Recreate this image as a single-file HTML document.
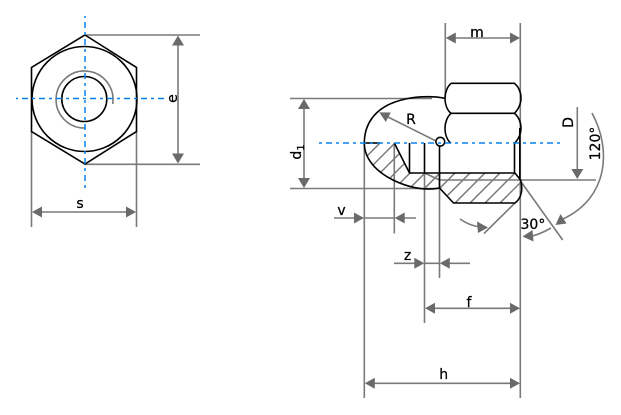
<!DOCTYPE html>
<html><head><meta charset="utf-8">
<style>
html,body{margin:0;padding:0;background:#fff;width:621px;height:415px;overflow:hidden}
svg{display:block}
text{font-family:"DejaVu Sans",sans-serif;font-size:14px;fill:#000;stroke:#000;stroke-width:.25}
.g{stroke:#7a7a7a;stroke-width:1.6;fill:none}
.k{stroke:#000;stroke-width:1.6;fill:none}
.b{stroke:#0a80ee;stroke-width:1.5;fill:none;stroke-dasharray:6 4 3 4}
.a{fill:#6a6a6a;stroke:none}
.h{stroke:#7a7a7a;stroke-width:1.5;fill:none}
</style></head><body>
<svg width="621" height="415" viewBox="0 0 621 415" xmlns="http://www.w3.org/2000/svg">
<defs>
<clipPath id="sec"><path d="M364.3,143 C364.3,158 375,171 393,180 C408,187.5 425,191 439.5,188 L453.5,203 L515,203 C522,198 523,188 520.5,180 L515,173 L409.5,173 L394.3,143 Z"/></clipPath>
</defs>

<!-- left view -->
<path class="g" d="M85,35H200M85,164.3H200M178,40V160M31.5,131V227M136.5,131V227M36,212H132"/>
<path class="g" d="M112.7,104 A28.5,28.5 0 1 0 85,128"/>
<path class="k" d="M85,35 L136.5,67.5 V131.5 L85,164 L31.5,131.5 V67.5 Z"/>
<circle class="k" cx="84.5" cy="99" r="52.5"/>
<circle class="k" cx="84.3" cy="99" r="22.5"/>
<path class="b" stroke-dashoffset="11" d="M16,98.5H167"/>
<path class="b" stroke-dashoffset="11" d="M85,16V190"/>
<path class="a" d="M178,35.5l-6,10h12zM178,163.5l-6,-10h12zM32,212l10,-5.5v11zM136,212l-10,-5.5v11z"/>
<text x="80" y="208" text-anchor="middle">s</text>
<text transform="translate(177,98.5) rotate(-90)" text-anchor="middle">e</text>

<!-- right view: hatch -->
<g clip-path="url(#sec)">
<path class="h" d="M523,0L323,200M538,0L338,200M553,0L303,250M568,0L318,250M583,0L333,250M598,0L348,250M613,0L363,250M628,0L378,250M643,0L393,250M658,0L408,250M673,0L423,250M688,0L438,250M703,0L453,250"/>
<path class="g" d="M424.5,173L439.5,180"/>
</g>

<!-- right view: gray -->
<path class="g" d="M445.3,23V98M520.3,23V398M450,38H516"/>
<path class="g" d="M290,98.5H432M290,188.5H440M304,103V184M439.5,180H596"/>
<path class="g" d="M364.3,143V398M394.3,143V233.5M424.5,173V323M439.5,173V278"/>
<path class="g" d="M440,143L384,115"/>
<path class="g" d="M577.3,107V172"/>
<path class="g" d="M334,218H358M364.3,218H394.3M400,218H416M394,263.3H418M424.5,263.3H439.5M446,263.3H470"/>
<path class="g" d="M430,308.3H515M370,383.3H515"/>
<path class="g" d="M515,203L484,233.5M520.5,181L562.7,240"/>
<path class="g" d="M460,219 C467,224 473,226 480,227"/>
<path class="g" d="M551,228 C544,232 538,235 530,236.5"/>
<path class="g" d="M592,113 C612,150 608,198 563,219"/>

<!-- right view: black -->
<path class="k" d="M445,98.3 C432,95.5 412,96 395,102 C375,109 364.3,124 364.3,143 C364.3,158 375,171 393,180 C408,187.5 425,191 439.5,188 L453.5,203 L515,203 C522,198 523,188 520.5,180 L515,173 L409.5,173 L394.3,143"/>
<path class="k" d="M364.3,143H380"/>
<path class="k" d="M451,83.3H514.3 C519,87 521,93 521,98 C521,104 518,110 514.3,113.3 C519,117 521,123 521,128 C521,134 518,140 514.3,143.3 M514.3,113.3H451 C447,110 445,104 445,98 C445,93 447,87 451,83.3 M451,113.3 C447,117 445,123 445,128 C445,134 447,140 451,143.3"/>
<path class="k" d="M519.8,128V180M514.5,143V173M409.5,143V173M424.5,143V173M439.5,146V188"/>
<circle cx="440.3" cy="141.7" r="4.4" fill="#fff" stroke="#000" stroke-width="1.6"/>

<path class="b" stroke-dashoffset="9" d="M318,143H560"/>

<!-- arrowheads -->
<path class="a" d="M445.8,38l10,-5.5v11zM520,38l-10,-5.5v11z"/>
<path class="a" d="M304,99l-6,10h12zM304,188l-6,-10h12z"/>
<path class="a" d="M379.3,112.3l11.5,0.2l-5,9.5z"/>
<path class="a" d="M577.3,179l-6,-10h12z"/>
<path class="a" d="M364,218l-10,-5.5v11zM394.7,218l10,-5.5v11z"/>
<path class="a" d="M424.3,263.3l-10,-5.5v11zM439.8,263.3l10,-5.5v11z"/>
<path class="a" d="M425,308.3l10,-5.5v11zM520,308.3l-10,-5.5v11z"/>
<path class="a" d="M364.8,383.3l10,-5.5v11zM520,383.3l-10,-5.5v11z"/>
<path class="a" d="M488,227.5l-11,-6l1,11.5z"/>
<path class="a" d="M522.5,236.5l10,-6.5l1,11.5z"/>
<path class="a" d="M555.5,225l5,-11l6,9.5z"/>

<!-- labels -->
<text x="477" y="37" text-anchor="middle">m</text>
<text x="411" y="124" text-anchor="middle">R</text>
<text x="341.5" y="215" text-anchor="middle">v</text>
<text x="407.5" y="260" text-anchor="middle">z</text>
<text x="469" y="307" text-anchor="middle">f</text>
<text x="443.7" y="379" text-anchor="middle">h</text>
<text x="520.5" y="229">30°</text>
<text transform="translate(573,122.5) rotate(-90)" text-anchor="middle">D</text>
<text transform="translate(600,143.5) rotate(-90)" text-anchor="middle">120°</text>
<text transform="translate(301,152) rotate(-90)" text-anchor="middle">d<tspan font-size="10" dy="3">1</tspan></text>
</svg>
</body></html>
